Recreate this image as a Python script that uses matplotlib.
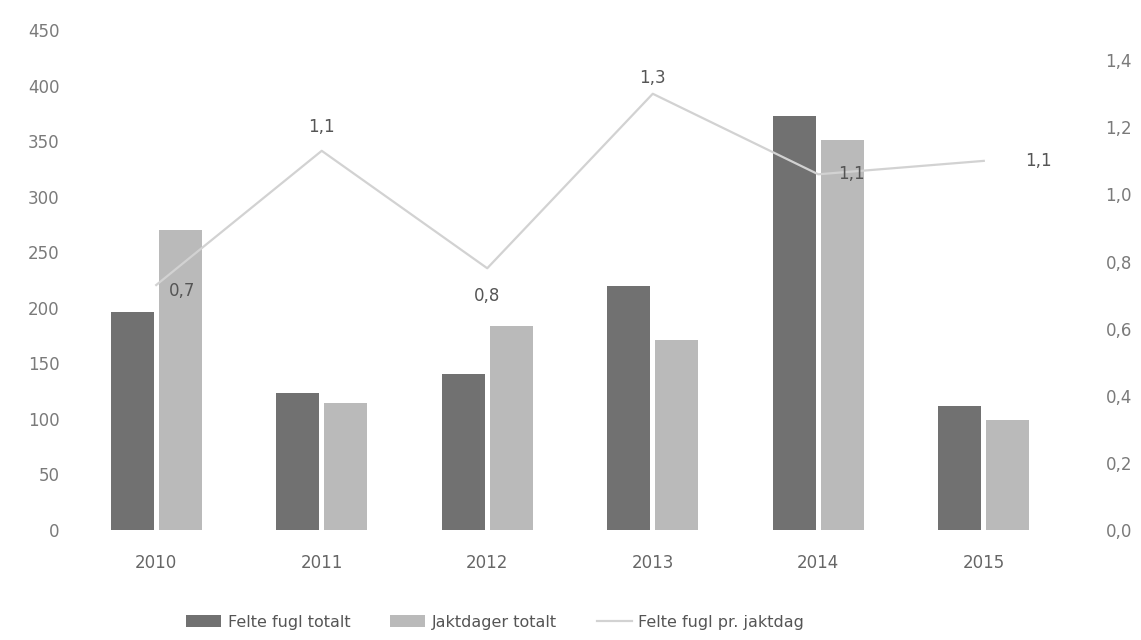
import numpy as np
import matplotlib
matplotlib.use("Agg")
import matplotlib.pyplot as plt

years = ["2010", "2011", "2012", "2013", "2014", "2015"]
felte_fugl = [196, 123, 140, 220, 373, 112]
jaktdager = [270, 114, 184, 171, 351, 99]
per_dag = [0.73, 1.13, 0.78, 1.30, 1.06, 1.10]
per_dag_labels = ["0,7", "1,1", "0,8", "1,3", "1,1", "1,1"]

DARK = "#717171"
LIGHT = "#bababa"
LINE = "#d2d2d2"
TXT = "#7a7a7a"

fig = plt.figure(figsize=(11.41, 6.4), dpi=100)
ax = fig.add_axes([90 / 1141, 1 - 530 / 640, 960 / 1141, 500 / 640])
ax2 = ax.twinx()

x = np.arange(len(years))
w = 0.26
ax.bar(x - 0.145, felte_fugl, w, color=DARK, label="Felte fugl totalt")
ax.bar(x + 0.145, jaktdager, w, color=LIGHT, label="Jaktdager totalt")
ax2.plot(x, per_dag, color=LINE, lw=1.6, label="Felte fugl pr. jaktdag")

ax.set_xlim(-0.4, 5.4)
ax.set_ylim(0, 450)
ax.set_yticks(range(0, 451, 50))
ax2.set_ylim(0, 1.49)
ax2.set_yticks(np.arange(0, 1.41, 0.2))
ax2.set_yticklabels([f"{v:.1f}".replace(".", ",") for v in np.arange(0, 1.41, 0.2)])
ax.set_xticks(x)
ax.set_xticklabels(years)

for a in (ax, ax2):
    for s in a.spines.values():
        s.set_visible(False)
    a.tick_params(length=0, colors=TXT, labelsize=12)
ax.tick_params(axis="y", pad=22)
ax2.tick_params(axis="y", pad=40)
ax.tick_params(axis="x", pad=17, colors="#666666")

# data labels on the line
offsets = [(9, -4), (0, 17), (0, -20), (0, 11), (14, 0), (30, 0)]
for i, (lab, off) in enumerate(zip(per_dag_labels, offsets)):
    ha = "left" if off[0] > 0 else "center"
    ax2.annotate(lab, (x[i], per_dag[i]), xytext=off, textcoords="offset points",
                 ha=ha, va="center", fontsize=12, color="#555555")

h1, l1 = ax.get_legend_handles_labels()
h2, l2 = ax2.get_legend_handles_labels()
fig.legend(h1 + h2, l1 + l2, loc="center", bbox_to_anchor=(0.434, 1 - 622 / 640),
           ncol=3, frameon=False, fontsize=11.5, labelcolor="#555555",
           handlelength=2.2, handletextpad=0.4, columnspacing=2.5)

fig.savefig("out.png", dpi=100)
